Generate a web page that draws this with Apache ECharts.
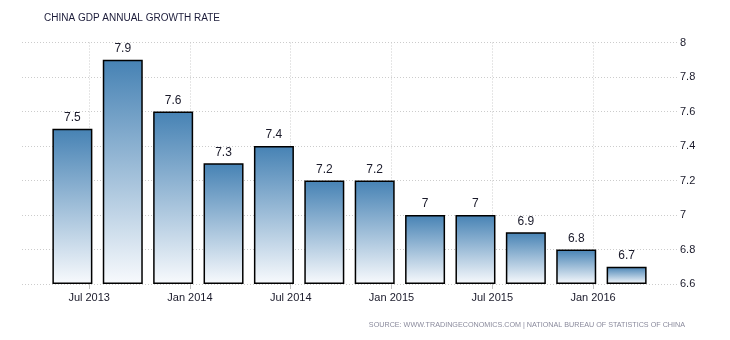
<!DOCTYPE html>
<html>
<head>
<meta charset="utf-8">
<script src="https://cdn.jsdelivr.net/npm/echarts@6/dist/echarts.min.js"></script>
<style>
html,body{margin:0;padding:0;background:#fff;}
#chart{width:730px;height:340px;}
</style>
</head>
<body>
<div id="chart"></div>
<script>
// Quarter reference months (bars placed on a month-based value axis)
var quarterMonths = ['2013-06','2013-09','2013-12','2014-03','2014-06','2014-09',
                     '2014-12','2015-03','2015-06','2015-09','2015-12','2016-03'];
var gdpGrowth = [7.5, 7.9, 7.6, 7.3, 7.4, 7.2, 7.2, 7.0, 7.0, 6.9, 6.8, 6.7];
var xTickMonths = ['2013-07','2014-01','2014-07','2015-01','2015-07','2016-01'];
var xTickLabels = ['Jul 2013','Jan 2014','Jul 2014','Jan 2015','Jul 2015','Jan 2016'];
var axisStartMonth = '2013-03';
var axisEndMonth = '2016-06';

var font = '"Liberation Sans", Arial, sans-serif';
function monthIndex(s){ var p = s.split('-'); return (+p[0] - 2013) * 12 + (+p[1] - 1); }
var tickVals = xTickMonths.map(monthIndex);
var labelMap = {};
tickVals.forEach(function(t, i){ labelMap[t] = xTickLabels[i]; });
var data = quarterMonths.map(function(m, i){ return [monthIndex(m), gdpGrowth[i]]; });

var chart = echarts.init(document.getElementById('chart'), null, {renderer: 'canvas'});
chart.setOption({
  animation: false,
  backgroundColor: '#ffffff',
  title: {
    text: 'CHINA GDP ANNUAL GROWTH RATE',
    left: 44, top: 13, padding: 0,
    textStyle: {fontFamily: font, fontSize: 10, fontWeight: 'normal', color: '#1c1c3a'}
  },
  graphic: [{
    type: 'text', right: 45, top: 322,
    style: {
      text: 'SOURCE: WWW.TRADINGECONOMICS.COM | NATIONAL BUREAU OF STATISTICS OF CHINA',
      font: '7.2px ' + font, fill: '#8a8a9c'
    }
  }],
  grid: {left: 22, right: 53, top: 42.5, bottom: 56, containLabel: false},
  xAxis: {
    type: 'value',
    min: monthIndex(axisStartMonth),
    max: monthIndex(axisEndMonth),
    axisLine: {show: false},
    axisTick: {show: true, customValues: tickVals, length: 5, lineStyle: {color: '#c0c0c0'}},
    axisLabel: {
      customValues: tickVals,
      formatter: function(v){ return labelMap[v] || ''; },
      fontFamily: font, fontSize: 11, color: '#1a1a2a', margin: 8
    },
    splitLine: {show: true, lineStyle: {color: '#cccccc', type: [1, 2], width: 1}}
  },
  yAxis: {
    type: 'value', position: 'right',
    min: 6.6, max: 8, interval: 0.2,
    startValue: 6.6,
    axisLine: {show: false}, axisTick: {show: false},
    axisLabel: {
      fontFamily: font, fontSize: 11, color: '#1a1a2a', margin: 3,
      formatter: function(v){ return String(Math.round(v * 10) / 10); }
    },
    splitLine: {show: true, lineStyle: {color: '#cccccc', type: [1, 2], width: 1}}
  },
  series: [{
    type: 'bar',
    data: data,
    barWidth: 40,
    itemStyle: {
      borderColor: '#000', borderWidth: 1.5,
      color: new echarts.graphic.LinearGradient(0, 0, 0, 1, [
        {offset: 0, color: '#4682b4'},
        {offset: 1, color: '#f8fafd'}
      ])
    },
    label: {
      show: true, position: 'top', distance: 5,
      fontFamily: font, fontSize: 12, color: '#1a1a2a',
      formatter: function(p){ return String(p.value[1]); }
    }
  }]
});
</script>
</body>
</html>
